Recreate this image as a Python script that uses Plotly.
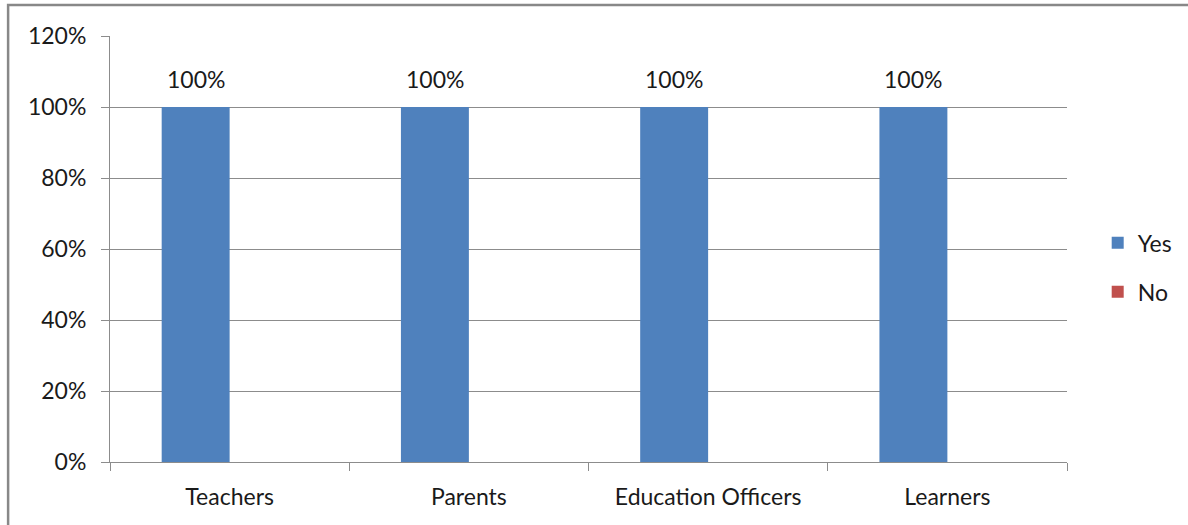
import plotly.graph_objects as go

# Survey responses by respondent group
groups = ["Teachers", "Parents", "Education Officers", "Learners"]
yes_share = [1.00, 1.00, 1.00, 1.00]
no_share = [0.00, 0.00, 0.00, 0.00]

y_ticks = [0, 0.2, 0.4, 0.6, 0.8, 1.0, 1.2]
y_tick_text = ["0%", "20%", "40%", "60%", "80%", "100%", "120%"]

FONT = "Lato, 'Open Sans', sans-serif"
GRID = "#8c8c8c"
TEXT = "#1a1a1a"
FS = 23
YES_COLOR = "#4f81bd"
NO_COLOR = "#c0504d"

fig = go.Figure()
fig.add_trace(go.Bar(
    x=groups, y=yes_share, name="Yes",
    marker=dict(color=YES_COLOR, line=dict(width=0)),
    legendgroup="yes",
))
fig.add_trace(go.Bar(
    x=groups, y=no_share, name="No",
    marker=dict(color=NO_COLOR, line=dict(width=0)),
    legendgroup="no",
))

# value labels above the "Yes" bars (bars sit left of the group centre)
value_labels = [
    dict(x=g, y=v, xref="x", yref="y", text=f"{v:.0%}", showarrow=False,
         yanchor="bottom", yshift=12, xshift=-34,
         font=dict(size=FS, family=FONT, color=TEXT))
    for g, v in zip(groups, yes_share)
]

fig.update_layout(
    width=1188, height=525,
    margin=dict(l=110, r=120, t=36, b=63),
    paper_bgcolor="white", plot_bgcolor="white",
    barmode="group", bargap=0.432, bargroupgap=0,
    font=dict(family=FONT, size=FS, color=TEXT),
    showlegend=True,
    legend=dict(
        x=1.031, y=0.457, xanchor="left", yanchor="middle",
        traceorder="grouped", tracegroupgap=16,
        font=dict(size=FS, family=FONT, color=TEXT),
        itemwidth=30, bgcolor="rgba(0,0,0,0)",
    ),
    xaxis=dict(
        type="category", tickson="boundaries", ticks="outside",
        ticklen=8, tickcolor=GRID, showline=True, linecolor=GRID,
        linewidth=1, showgrid=False, ticklabelstandoff=14,
        tickfont=dict(size=FS, family=FONT, color=TEXT),
    ),
    yaxis=dict(
        range=[0, 1.2], tickvals=y_ticks, ticktext=y_tick_text,
        ticks="outside", ticklen=8, tickcolor=GRID,
        showline=True, linecolor=GRID, linewidth=1,
        showgrid=True, gridcolor=GRID, gridwidth=1, zeroline=False,
        ticklabelstandoff=10,
        tickfont=dict(size=FS, family=FONT, color=TEXT),
    ),
    annotations=value_labels,
    shapes=[dict(
        type="rect", xref="paper", yref="paper",
        x0=(8 - 110) / 958, x1=1.2, y0=-0.3, y1=(462 - 5) / 426,
        line=dict(color="#888888", width=2.5), layer="below",
    )],
)

fig.write_html("out.html")
